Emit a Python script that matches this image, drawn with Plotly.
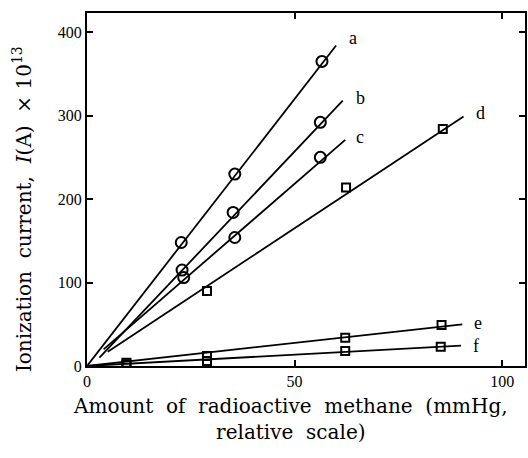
import plotly.graph_objects as go

# Measured points (x: mmHg relative, y: I x 1e13 A)
a_x = [22.7, 35.6, 56.6]
a_y = [148, 230, 365]
b_x = [22.9, 35.2, 56.2]
b_y = [115, 184, 292]
c_x = [23.3, 35.6, 56.2]
c_y = [106, 154, 250]
d_x = [28.9, 62.4, 85.7]
d_y = [90, 214, 284]
e_x = [9.5, 28.9, 62.2, 85.4]
e_y = [4, 12, 34, 49]
f_x = [9.5, 28.9, 62.2, 85.2]
f_y = [2, 6, 18, 23]

# Fitted straight lines (start and end points)
a_line_x = [0, 60]
a_line_y = [0, 384]
b_line_x = [3, 61.6]
b_line_y = [10, 318]
c_line_x = [4, 62.2]
c_line_y = [20, 271]
d_line_x = [5, 90.7]
d_line_y = [17, 299]
e_line_x = [0, 90.4]
e_line_y = [0, 50]
f_line_x = [0, 90.1]
f_line_y = [0, 24.5]

labels = ["a", "b", "c", "d", "e", "f"]
label_x = [62.6, 64.2, 64.2, 93.1, 92.8, 92.6]
label_y = [393, 321, 275, 303, 52, 24]

x_ticks = [0, 50, 100]
y_ticks = [0, 100, 200, 300, 400]

SERIF = "Liberation Serif"
TITLE_SERIF = "DejaVu Serif"

fig = go.Figure()

lines = [(a_line_x, a_line_y), (b_line_x, b_line_y), (c_line_x, c_line_y),
         (d_line_x, d_line_y), (e_line_x, e_line_y), (f_line_x, f_line_y)]
for lx, ly in lines:
    fig.add_trace(go.Scatter(x=lx, y=ly, mode="lines",
                             line=dict(color="black", width=1.8),
                             showlegend=False, hoverinfo="skip"))

circ = dict(symbol="circle-open", size=11, color="black", line=dict(width=2, color="black"))
sq = dict(symbol="square-open", size=8, color="black", line=dict(width=2, color="black"))
for px, py, mk in [(a_x, a_y, circ), (b_x, b_y, circ), (c_x, c_y, circ),
                   (d_x, d_y, sq), (e_x, e_y, sq), (f_x, f_y, sq)]:
    fig.add_trace(go.Scatter(x=px, y=py, mode="markers", marker=mk,
                             showlegend=False))

for t, lx, ly in zip(labels, label_x, label_y):
    fig.add_annotation(x=lx, y=ly, text=t, showarrow=False, xanchor="left",
                       yanchor="middle", font=dict(family=SERIF, size=18, color="black"))

fig.add_annotation(xref="paper", yref="paper", x=-0.148, y=0.445,
                   text="Ionization  current,  <i>I</i>(A)  × 10<sup>13</sup>",
                   textangle=-90, showarrow=False, xanchor="center", yanchor="middle",
                   font=dict(family=TITLE_SERIF, size=20, color="black"))
fig.add_annotation(xref="paper", yref="paper", x=0.465, y=-0.075,
                   text="Amount  of  radioactive  methane  (mmHg,<br>relative  scale)",
                   showarrow=False, xanchor="center", yanchor="top", align="center",
                   font=dict(family=TITLE_SERIF, size=20, color="black"))

axis_common = dict(showgrid=False, zeroline=False, showline=True, linecolor="black",
                   linewidth=2, mirror="ticks", ticks="inside", ticklen=6, tickwidth=1.5,
                   tickcolor="black", tickfont=dict(family=SERIF, size=16, color="black"))

fig.update_xaxes(range=[0, 105.5], tickvals=x_ticks, **axis_common)
fig.update_yaxes(range=[0, 423], tickvals=y_ticks, **axis_common)

fig.update_layout(width=528, height=458, margin=dict(l=87, r=1, t=13, b=92),
                  plot_bgcolor="white", paper_bgcolor="white")

fig.write_html("out.html")
